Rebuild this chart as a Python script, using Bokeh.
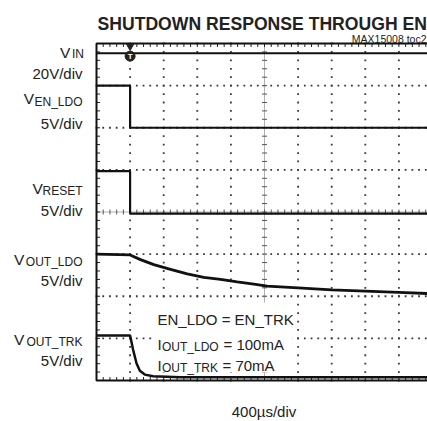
import numpy as np
from bokeh.plotting import figure
from bokeh.models import Label, Range1d, BoxAnnotation
from bokeh.embed import file_html
from bokeh.resources import INLINE

# ---------------- data (time in us, vertical position in screen divisions) ----------------
vin_t = [-400, 3600]
vin_y = [7.77, 7.77]

en_ldo_t = [-400, 0, 0, 3600]
en_ldo_y = [7.0, 7.0, 6.0, 6.0]

reset_t = [-400, 0, 0, 3600]
reset_y = [4.97, 4.97, 3.96, 3.96]

out_ldo_t = [-400, 0, 124, 282, 481, 680, 877, 1076, 1275, 1473, 1632, 2000, 2400, 2800, 3200, 3600]
out_ldo_y = [3.0, 2.98, 2.87, 2.75, 2.64, 2.53, 2.45, 2.40, 2.34, 2.29, 2.24, 2.20, 2.15, 2.12, 2.09, 2.06]

out_trk_t = [-400, 0, 36, 76, 116, 175, 275, 600, 3600]
out_trk_y = [1.07, 1.07, 0.73, 0.41, 0.23, 0.14, 0.10, 0.08, 0.08]

trigger_t = [0]
trigger_y = [7.7]

us_per_div = 400
n_xdiv = 10
n_ydiv = 8

# ---------------- geometry helpers (picture pixels -> data) ----------------
PX_X = 33.6      # px per x division
PX_Y = 42.125    # px per y division
FRAME_L = 96     # x of left graticule edge
FRAME_T = 43     # y of top graticule edge
OFF = 0          # canvas offset in the picture


def tx(px):
    return -400 + (px - FRAME_L) * us_per_div / PX_X


def dy(py):
    return n_ydiv - (py - FRAME_T) / PX_Y


W, H = 427, 421
x0, x1 = tx(OFF), tx(OFF + W)
y0, y1 = dy(OFF + H), dy(OFF)

p = figure(width=W, height=H, x_range=Range1d(x0, x1), y_range=Range1d(y0, y1),
           output_backend="svg", toolbar_location=None,
           x_axis_type=None, y_axis_type=None,
           min_border=0, min_border_left=0, min_border_right=0,
           min_border_top=0, min_border_bottom=0)
p.outline_line_color = None
p.grid.visible = False
p.background_fill_color = "white"
p.border_fill_color = "white"

FONT = "Liberation Sans"

# ---------------- graticule ----------------
xdiv_t = -400 + np.arange(1, n_xdiv) * us_per_div
ydiv_v = np.arange(1, n_ydiv)
sub_t = -400 + np.arange(0, n_xdiv * 5 + 1) * us_per_div / 5
sub_y = np.arange(0, n_ydiv * 5 + 1) / 5

gx, gy = [], []
for t in xdiv_t:
    if t == 1600:
        continue
    gx += [t] * len(sub_y)
    gy += list(sub_y)
for v in ydiv_v:
    if v == 4:
        continue
    gx += list(sub_t)
    gy += [v] * len(sub_t)
p.scatter(gx, gy, marker="square", size=1.8, color="#3a3a3a", line_color=None)

# centre cross lines
p.line([1600, 1600], [0, n_ydiv], line_color="#b0b0b0", line_width=1)
p.line([-400, 3600], [4, 4], line_color="#b0b0b0", line_width=1)
hx = 2.5 * us_per_div / PX_X
hy = 2.5 / PX_Y
p.segment(x0=[1600 - hx] * len(sub_y), y0=list(sub_y), x1=[1600 + hx] * len(sub_y), y1=list(sub_y),
          line_color="#555555", line_width=1)
p.segment(x0=list(sub_t), y0=[4 - hy] * len(sub_t), x1=list(sub_t), y1=[4 + hy] * len(sub_t),
          line_color="#555555", line_width=1)

# graticule edge ticks
tlx = 3.5 * us_per_div / PX_X
tly = 3.5 / PX_Y
p.segment(x0=[-400] * len(sub_y), y0=list(sub_y), x1=[-400 + tlx] * len(sub_y), y1=list(sub_y),
          line_color="#222222", line_width=1)
p.segment(x0=list(sub_t), y0=[n_ydiv] * len(sub_t), x1=list(sub_t), y1=[n_ydiv - tly] * len(sub_t),
          line_color="#222222", line_width=1)
p.segment(x0=list(sub_t), y0=[0] * len(sub_t), x1=list(sub_t), y1=[tly] * len(sub_t),
          line_color="#222222", line_width=1)

# graticule border (left, top, bottom; right edge is beyond the picture)
p.line([3600, -400, -400, 3600], [n_ydiv, n_ydiv, 0, 0], line_color="#111111", line_width=2)

# ---------------- traces ----------------
p.line(vin_t, vin_y, line_color="#111111", line_width=2)
p.line(en_ldo_t, en_ldo_y, line_color="#111111", line_width=2.2)
p.line(reset_t, reset_y, line_color="#111111", line_width=2.2)
p.line(out_ldo_t, out_ldo_y, line_color="#111111", line_width=2.8)
p.line(out_trk_t, out_trk_y, line_color="#111111", line_width=2.5)

# trigger markers
p.scatter(trigger_t, [n_ydiv - 3 / PX_Y], marker="inverted_triangle", size=7, color="#222222")
p.scatter(trigger_t, trigger_y, marker="circle", size=10, color="#222222")
p.add_layout(Label(x=trigger_t[0], y=trigger_y[0], text="T", text_color="white",
                   text_font=FONT, text_font_size="8px", text_font_style="bold",
                   text_align="center", text_baseline="middle"))

# white box behind annotation
p.add_layout(BoxAnnotation(left=tx(153), right=tx(292), top=dy(302), bottom=dy(372),
                           fill_color="white", fill_alpha=1, line_color=None))


def lab(text, px, py, size=15, align="left", bold=False, color="#222222"):
    p.add_layout(Label(x=tx(px), y=dy(py), text=text, text_font=FONT,
                       text_font_size=f"{size}px", text_align=align,
                       text_baseline="alphabetic", text_color=color,
                       text_font_style="bold" if bold else "normal"))


# annotation inside the graticule
lab("EN_LDO = EN_TRK", 157, 319)
lab("I", 157, 344)
lab("OUT_LDO", 161.5, 346.5, size=12)
lab("= 100mA", 223, 344)
lab("I", 157, 365)
lab("OUT_TRK", 161.5, 367, size=12)
lab("= 70mA", 222, 365)

# channel labels
lab("V", 59.5, 52, size=15.5)
lab("IN", 71.5, 53.5, size=12)
lab("20V/div", 82, 72.7, align="right")

lab("V", 23.3, 98.3, size=15.5)
lab("EN_LDO", 82, 101.5, size=12, align="right")
lab("5V/div", 82, 122.7, align="right")

lab("V", 32, 188.3, size=15.5)
lab("RESET", 82, 190.7, size=12, align="right")
lab("5V/div", 82, 210, align="right")

lab("V", 13.5, 258.5, size=15.5)
lab("OUT_LDO", 82, 261, size=12, align="right")
lab("5V/div", 82, 280, align="right")

lab("V", 13.5, 339.3, size=15.5)
lab("OUT_TRK", 82, 341.7, size=12, align="right")
lab("5V/div", 82, 360, align="right")

# title, note, time base
lab("SHUTDOWN RESPONSE THROUGH EN", 97, 23.3, size=17.6, bold=True)
lab("MAX15008 toc2", 426, 38, size=10.5, align="right")
lab("400\u00b5s/div", 263.5, 411, align="center")

open("out.html", "w").write(file_html(p, INLINE))
